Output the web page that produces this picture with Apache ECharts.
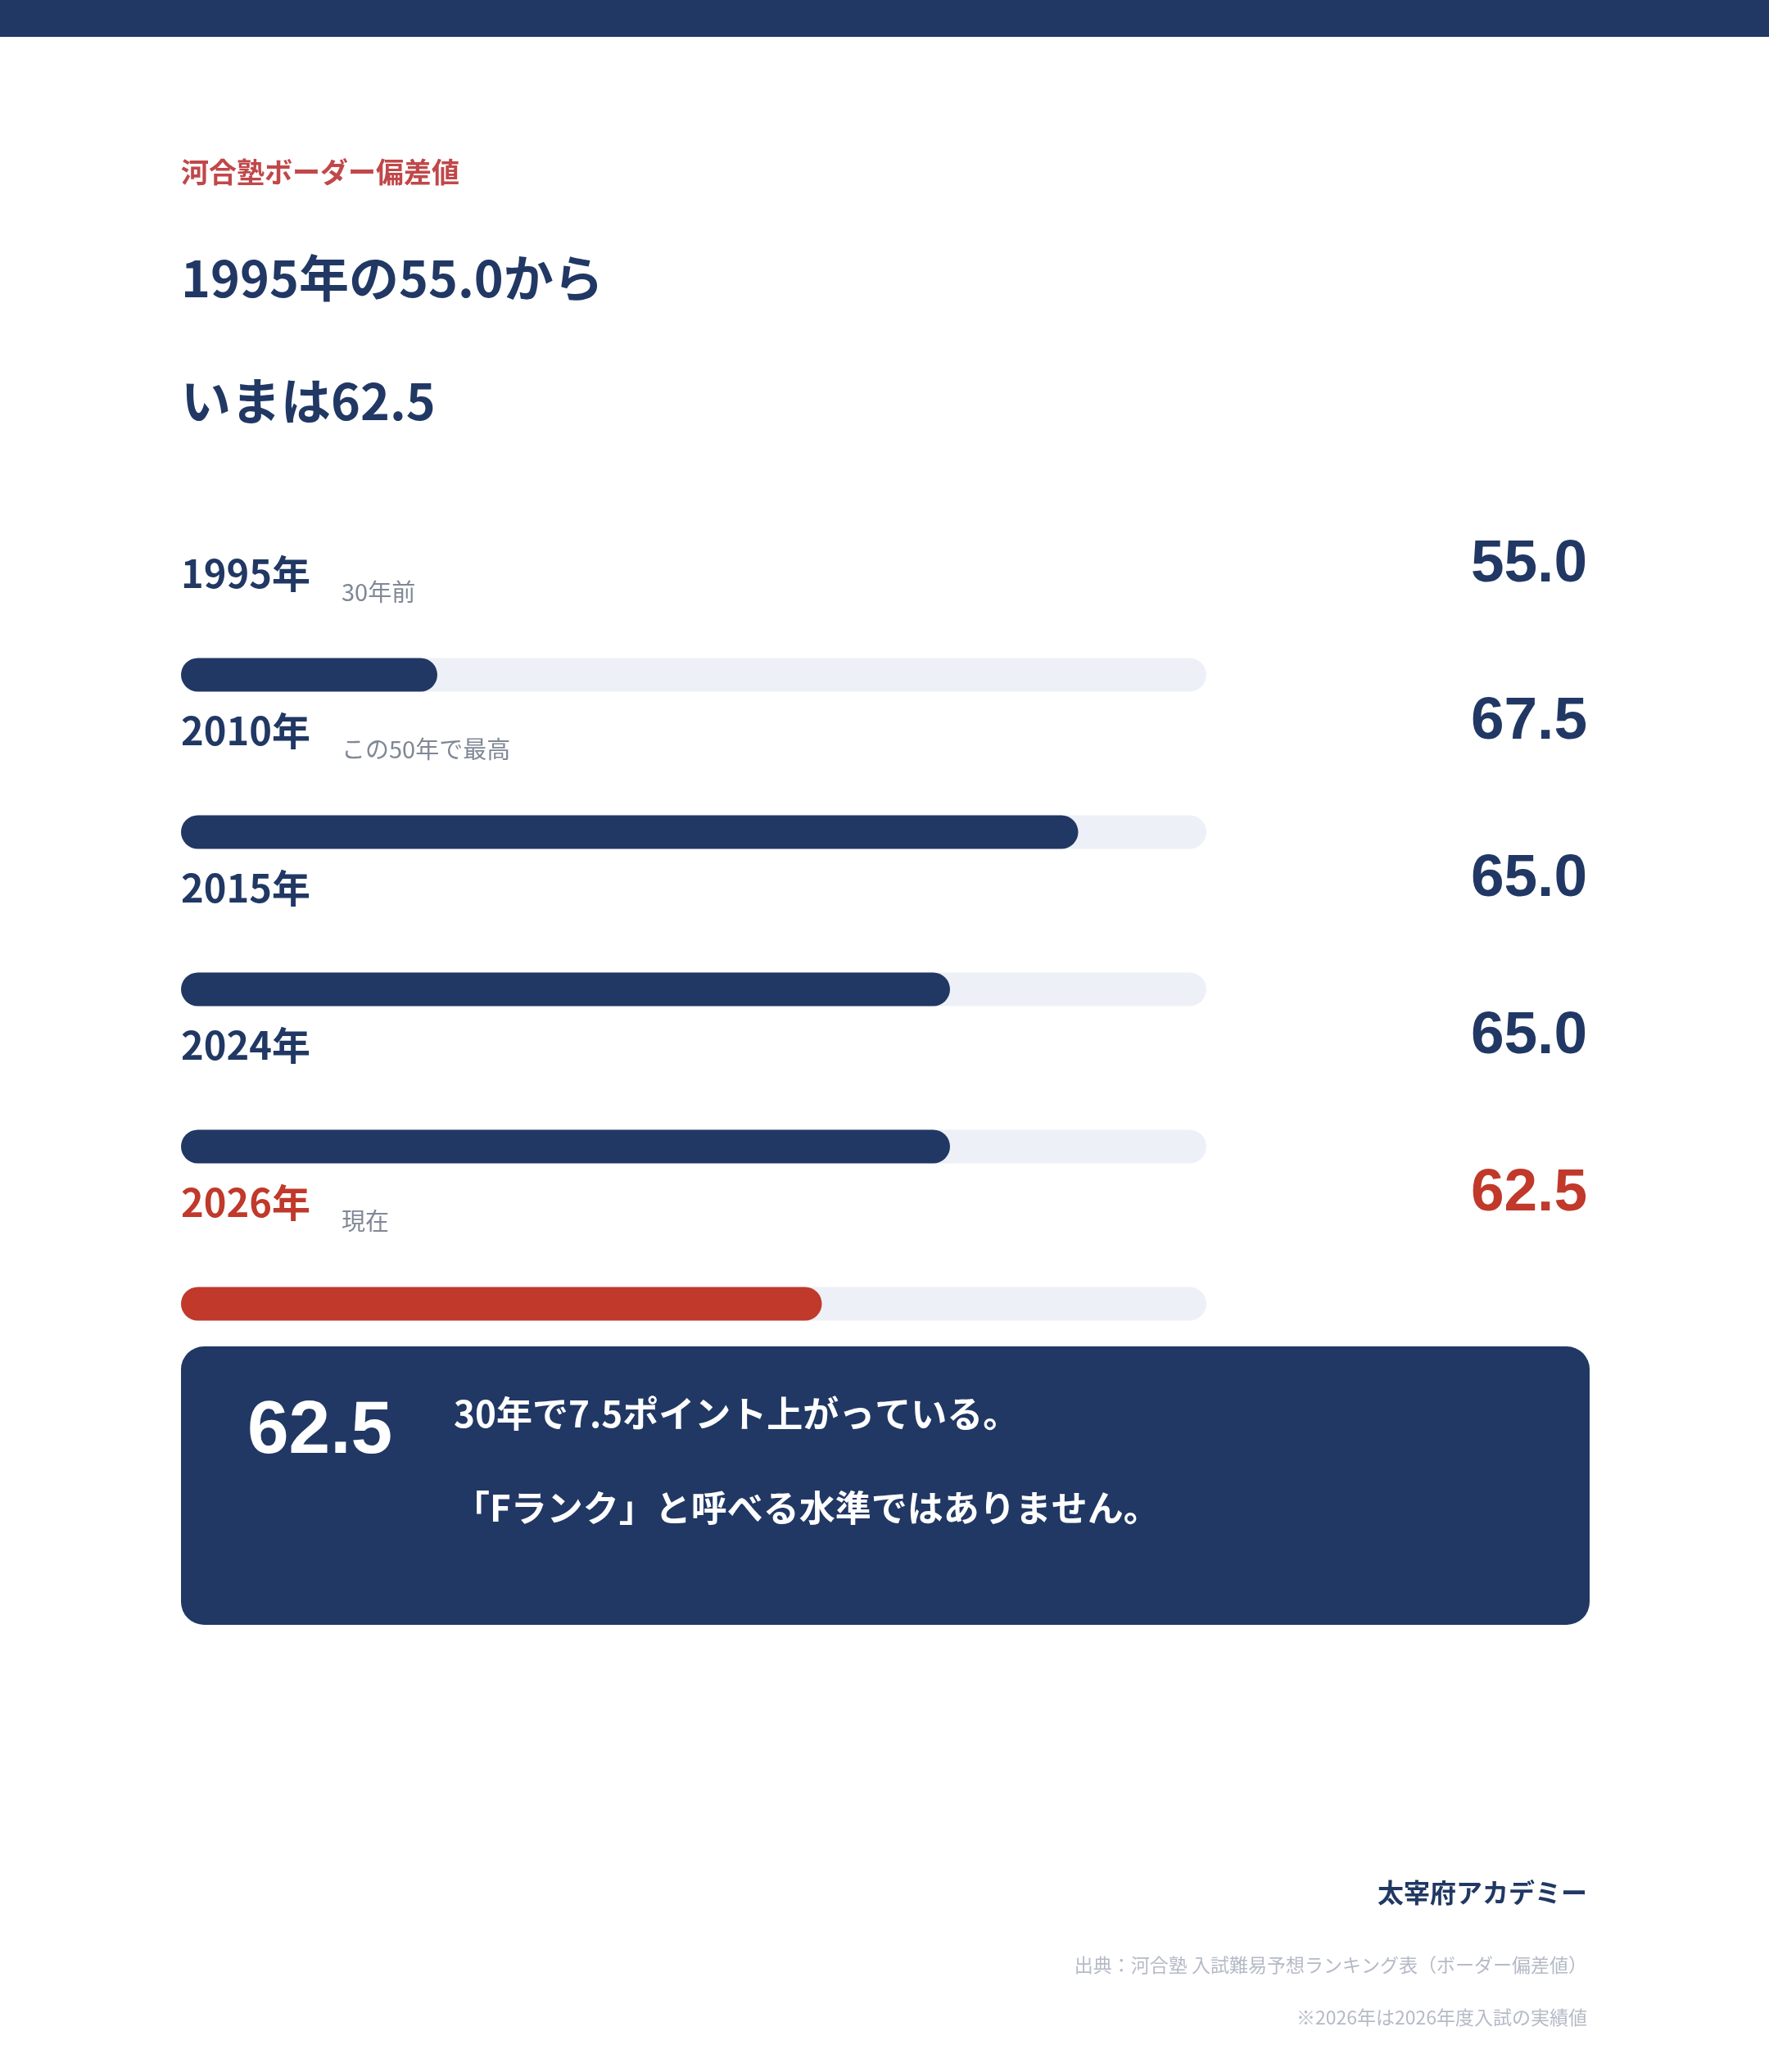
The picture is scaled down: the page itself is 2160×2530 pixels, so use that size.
<!DOCTYPE html>
<html>
<head>
<meta charset="utf-8">
<script src="https://cdn.jsdelivr.net/npm/echarts@6/dist/echarts.min.js"></script>
<style>
  html, body { margin: 0; padding: 0; background: #fff; }
  #chart { width: 2160px; height: 2530px; }
</style>
</head>
<body>
<div id="chart"></div>
<script>
// data
const years = ['1995年', '2010年', '2015年', '2024年', '2026年'];
const values = [55.0, 67.5, 65.0, 65.0, 62.5];
const notes = ['30年前', 'この50年で最高', '', '', '現在'];
const scaleMin = 50;
const scaleMax = 70;

const NAVY = '#213864';
const RED = '#c0392b';
const TRACK = '#edf0f7';
const JP = '"Noto Sans CJK JP", "Noto Sans", sans-serif';
const NUM = '"Liberation Sans", Arial, sans-serif';

const chart = echarts.init(document.getElementById('chart'));

function txt(text, x, y, size, color, opts) {
  opts = opts || {};
  return {
    type: 'text',
    style: {
      text: text, x: x, y: y,
      fill: color,
      fontSize: size,
      fontWeight: opts.weight || 'normal',
      fontFamily: opts.family || JP,
      align: opts.align || 'left',
      verticalAlign: 'middle'
    }
  };
}

const last = values[values.length - 1];

chart.setOption({
  animation: false,
  grid: { left: 221, right: 687, top: 728, bottom: 842 },
  xAxis: { type: 'value', min: scaleMin, max: scaleMax, show: false },
  yAxis: { type: 'category', data: years, inverse: true, show: false },
  graphic: [
    { type: 'rect', shape: { x: 0, y: 0, width: 2160, height: 45 }, style: { fill: NAVY } },
    txt('河合塾ボーダー偏差値', 221, 210, 34, '#c0484a', { weight: 'bold' }),
    txt('1995年の55.0から', 221, 340, 61, NAVY, { weight: 'bold' }),
    txt('いまは62.5', 221, 490, 61, NAVY, { weight: 'bold' }),
    { type: 'rect', shape: { x: 221, y: 1644, width: 1720, height: 340, r: 28 }, style: { fill: NAVY } },
    txt(last.toFixed(1), 302, 1749, 91, '#fff', { weight: 'bold', family: NUM }),
    txt('30年で7.5ポイント上がっている。', 554, 1726, 44, '#fff', { weight: 'bold' }),
    txt('「Fランク」と呼べる水準ではありません。', 554, 1841, 44, '#fff', { weight: 'bold' }),
    txt('太宰府アカデミー', 1938, 2311, 32, NAVY, { weight: 'bold', align: 'right' }),
    txt('出典：河合塾 入試難易予想ランキング表（ボーダー偏差値）', 1938, 2399, 23, '#b5bac6', { align: 'right' }),
    txt('※2026年は2026年度入試の実績値', 1938, 2463, 23, '#b5bac6', { align: 'right' })
  ],
  series: [{
    type: 'custom',
    clip: false,
    encode: { x: 0, y: 1 },
    data: values.map((v, i) => [v, i]),
    renderItem: function (params, api) {
      const i = params.dataIndex;
      const cat = api.value(1);
      const p0 = api.coord([scaleMin, cat]);
      const p1 = api.coord([scaleMax, cat]);
      const pv = api.coord([api.value(0), cat]);
      const h = 41;
      const cy = p0[1];
      const isLast = i === values.length - 1;
      const col = isLast ? RED : NAVY;
      const children = [
        { type: 'rect', shape: { x: p0[0], y: cy - h / 2, width: p1[0] - p0[0], height: h, r: h / 2 }, style: { fill: TRACK } },
        { type: 'rect', shape: { x: p0[0], y: cy - h / 2, width: pv[0] - p0[0], height: h, r: h / 2 }, style: { fill: col } },
        txt(years[i], p0[0], cy - 124, 47, col, { weight: 'bold' }),
        txt(api.value(0).toFixed(1), api.getWidth() - 222, cy - 134, 73, col, { weight: 'bold', family: NUM, align: 'right' })
      ];
      if (notes[i]) {
        children.push(txt(notes[i], p0[0] + 196, cy - 101, 29, '#808896'));
      }
      return { type: 'group', children: children };
    }
  }]
});
</script>
</body>
</html>
